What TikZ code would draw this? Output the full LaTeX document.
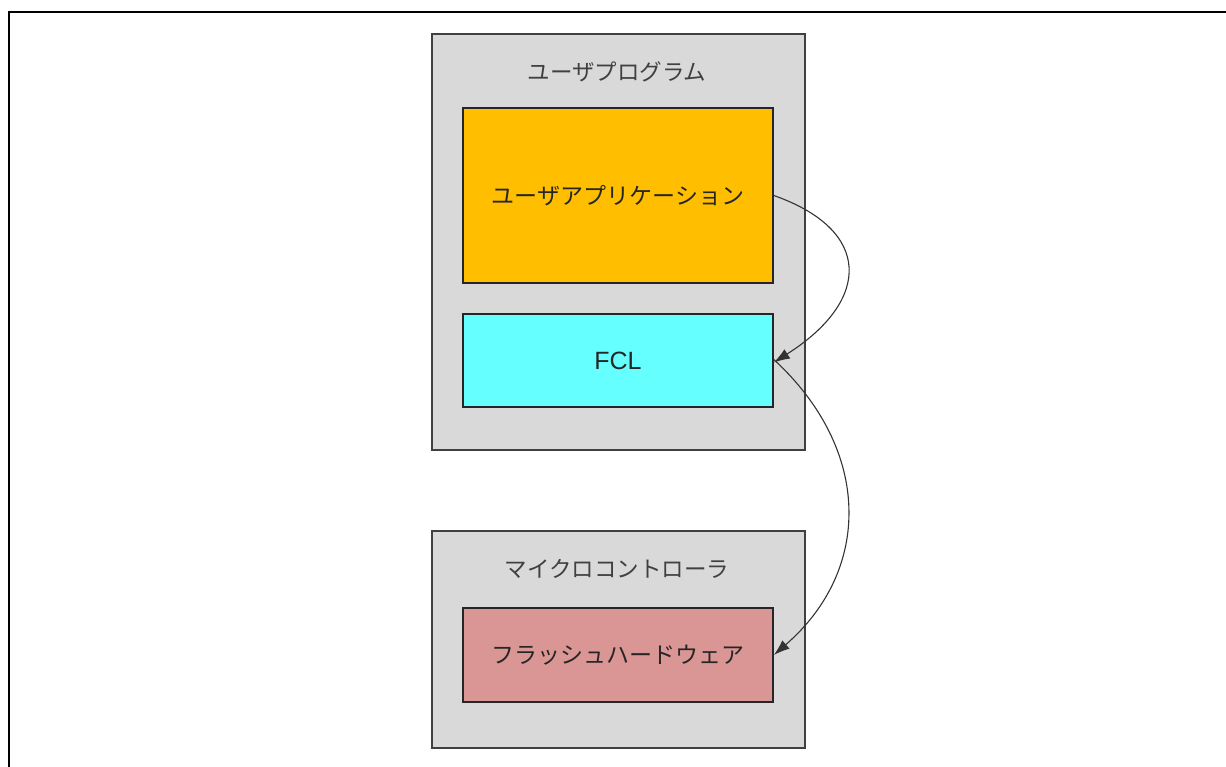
\documentclass[tikz,border=0pt]{standalone}
\usepackage{fontspec}
\setmainfont{Noto Sans CJK JP}
\newfontfamily\latinfont{Liberation Sans}
\usetikzlibrary{arrows.meta}
\definecolor{boxgrey}{HTML}{D9D9D9}
\definecolor{apporange}{HTML}{FFBF00}
\definecolor{fclcyan}{HTML}{66FFFF}
\definecolor{flashred}{HTML}{DA9694}
\definecolor{edge}{HTML}{404040}
\begin{document}
\begin{tikzpicture}[x=1pt,y=-1pt,
  container/.style={draw=edge,line width=1.6pt,fill=boxgrey},
  inner/.style={draw=black!85,line width=1.6pt},
  lbl/.style={font=\fontsize{23}{26}\selectfont,text=black!85},
  title/.style={font=\fontsize{22.5}{26}\selectfont,text=black!75},
  conn/.style={draw=black!80,line width=1.1pt,-{Latex[length=16pt,width=11pt]}}]
\useasboundingbox (0,0) rectangle (1226,767);
\draw[line width=2.2pt,black] (9,767) -- (9,12) -- (1226,12);
% containers
\path[container] (432,34) rectangle (805,450);
\path[container] (432,531) rectangle (805,748);
\node[title] (t1) at (617,72) {ユーザプログラム};
\node[title] (t2) at (617,569) {マイクロコントローラ};
% inner boxes
\node[inner,fill=apporange,minimum width=310pt,minimum height=175pt,inner sep=0pt] (app) at (618,195.5) {};
\node[lbl] at (app.center) {ユーザアプリケーション};
\node[inner,fill=fclcyan,minimum width=310pt,minimum height=93pt,inner sep=0pt] (fcl) at (618,360.5) {};
\node[font=\latinfont\fontsize{25}{28}\selectfont,text=black!85] at (fcl.center) {FCL};
\node[inner,fill=flashred,minimum width=310pt,minimum height=94pt,inner sep=0pt] (hw) at (618,655) {};
\node[lbl] at (hw.center) {フラッシュハードウェア};
% connectors
\draw[conn] (app.east) .. controls (872,230) and (872,300) .. ([yshift=-2pt]fcl.east);
\draw[conn] ([yshift=1pt]fcl.east) .. controls (872,450) and (872,570) .. (hw.east);
\end{tikzpicture}
\end{document}
